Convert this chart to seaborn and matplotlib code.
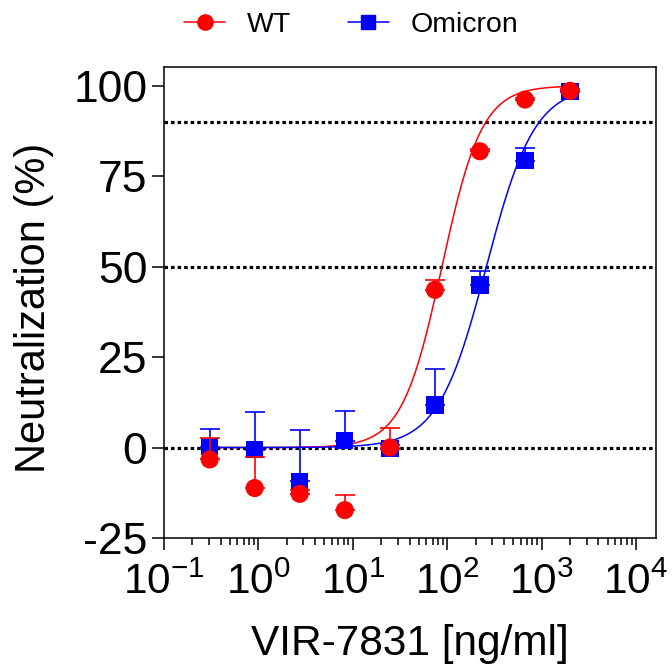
import numpy as np
import matplotlib
matplotlib.use("Agg")
import matplotlib.pyplot as plt
from matplotlib.lines import Line2D
import seaborn as sns

# =========================
# Data
# =========================
dose = [0.305, 0.914, 2.74, 8.23, 24.7, 74.1, 222, 667, 2000]

wt_mean = [-3.3, -11.2, -12.8, -17.3, 0.0, 43.6, 81.9, 96.2, 98.6]
wt_err = [5.8, 8.5, 1.0, 4.3, 5.3, 2.8, 0.5, 0.5, 0.5]

omi_mean = [0.2, -0.6, -9.3, 1.9, -0.3, 11.8, 44.9, 79.3, 98.4]
omi_err = [4.9, 10.5, 14.2, 8.3, 1.0, 9.8, 4.0, 3.4, 0.5]

# 4-parameter logistic fit (bottom, top, IC50, hill) estimated from the drawn curves
wt_fit = [0.0, 100.0, 88.0, 2.05]
omi_fit = [0.0, 100.0, 260.0, 1.7]

ref_lines = [0, 50, 90]
y_ticks = [-25, 0, 25, 50, 75, 100]
x_ticks = [0.1, 1, 10, 100, 1000, 10000]
x_tick_labels = [r"$10^{-1}$", r"$10^{0}$", r"$10^{1}$", r"$10^{2}$", r"$10^{3}$", r"$10^{4}$"]

series = ["WT", "Omicron"]
colors = {"WT": "#FF0000", "Omicron": "#0000FF"}
markers = {"WT": "o", "Omicron": "s"}


def logistic(x, p):
    bottom, top, ic50, hill = p
    return bottom + (top - bottom) / (1 + (ic50 / x) ** hill)


# =========================
# Style
# =========================
sns.set_theme(style="ticks")
plt.rcParams["font.family"] = ["Liberation Sans", "DejaVu Sans"]
plt.rcParams["mathtext.fontset"] = "custom"
plt.rcParams["mathtext.rm"] = "Liberation Sans"
plt.rcParams["mathtext.default"] = "regular"
plt.rcParams["axes.unicode_minus"] = False
plt.rcParams["text.color"] = "black"
plt.rcParams["axes.labelcolor"] = "black"
plt.rcParams["xtick.color"] = "black"
plt.rcParams["ytick.color"] = "black"

fig = plt.figure(figsize=(6.72, 6.64), dpi=100)
ax = fig.add_axes([0.2440, 0.1898, 0.7318, 0.7093])

for y in ref_lines:
    ax.axhline(y, color="black", lw=2.3, linestyle=(0, (1.1, 0.95)), zorder=1)

curve_x = np.logspace(np.log10(dose[0]), np.log10(dose[-1]), 300)

# curves (blue drawn over red on the flat part)
sns.lineplot(x=curve_x, y=logistic(curve_x, wt_fit), color=colors["WT"],
             lw=1.1, ax=ax, zorder=2)
sns.lineplot(x=curve_x, y=logistic(curve_x, omi_fit), color=colors["Omicron"],
             lw=1.1, ax=ax, zorder=3)

# one-sided (upper) error bars, then markers
for name, mean, err, zb in [("Omicron", omi_mean, omi_err, 4), ("WT", wt_mean, wt_err, 6)]:
    ax.errorbar(dose, mean, yerr=[np.zeros(len(err)), err], fmt="none",
                ecolor=colors[name], elinewidth=1.2, capsize=7, capthick=1.2,
                zorder=zb)
    sns.scatterplot(x=dose, y=mean, marker=markers[name], color=colors[name],
                    s=170 if name == "WT" else 155, edgecolor="none",
                    ax=ax, zorder=zb + 1)

ax.set_xscale("log")
ax.set_xlim(0.1, 10 ** 4.209)
ax.set_ylim(-25, 105.2)

ax.set_xticks(x_ticks)
ax.set_xticklabels(x_tick_labels)
ax.xaxis.set_minor_locator(matplotlib.ticker.LogLocator(base=10, subs=np.arange(2, 10), numticks=20))
ax.xaxis.set_minor_formatter(matplotlib.ticker.NullFormatter())
ax.set_yticks(y_ticks)

ax.tick_params(axis="both", which="major", direction="out", length=8.5, width=1.1)
ax.tick_params(axis="x", which="major", labelsize=30.5, pad=9)
ax.tick_params(axis="y", which="major", labelsize=32, pad=3.5)
ax.tick_params(axis="x", which="minor", direction="out", length=4.8, width=1.1)

for s in ax.spines.values():
    s.set_linewidth(1.1)
    s.set_color("black")

ax.set_ylabel("Neutralization (%)", fontsize=30)
ax.set_xlabel("VIR-7831 [ng/ml]", fontsize=30.5)
ax.yaxis.set_label_coords(-0.224, 0.489)
ax.xaxis.set_label_coords(0.5, -0.182)

handles = [Line2D([0], [0], color=colors[n], lw=1.1, marker=markers[n],
                  markersize=11 if n == "WT" else 10) for n in series]
fig.legend(handles, series, loc="center", bbox_to_anchor=(351 / 672, 1 - 25 / 664),
           ncol=2, frameon=False, fontsize=20.5, handlelength=1.45,
           handletextpad=0.75, columnspacing=2.0)

fig.savefig("out.png", dpi=100)
